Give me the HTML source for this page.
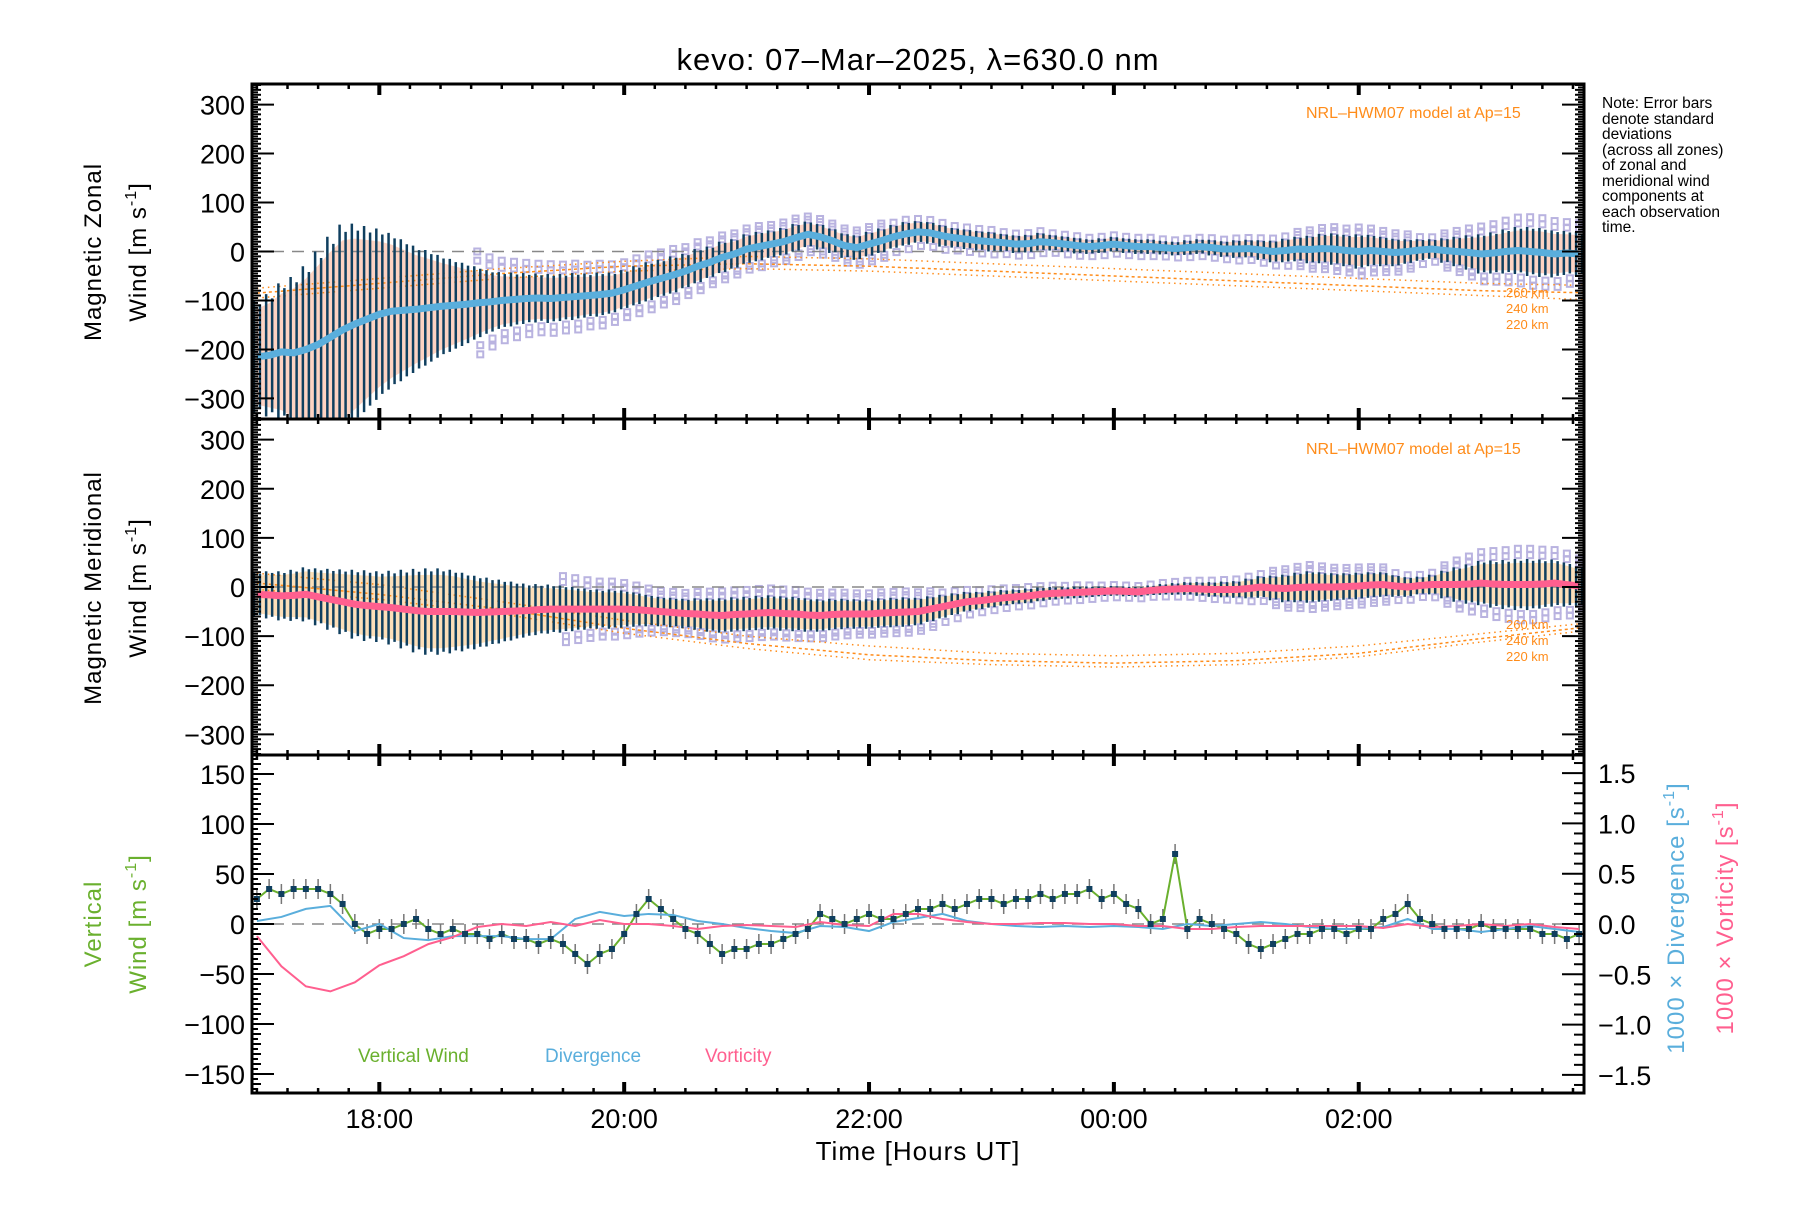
<!DOCTYPE html>
<html><head><meta charset="utf-8"><title>kevo winds</title>
<style>
html,body{margin:0;padding:0;background:#fff;}
svg text{font-family:"Liberation Sans",sans-serif;}
</style></head>
<body>
<svg id="chart" xmlns="http://www.w3.org/2000/svg" width="1800" height="1200" viewBox="0 0 1800 1200">
<rect x="0" y="0" width="1800" height="1200" fill="#fff"/>
<text x="918" y="70" font-size="31" text-anchor="middle" letter-spacing="1">kevo: 07–Mar–2025, λ=630.0 nm</text>
<g id="p1"></g>
<g id="p2"></g>
<g id="p3"></g>
<g id="axes"></g>
<text transform="translate(101,252) rotate(-90)" font-size="24" text-anchor="middle" letter-spacing="1">Magnetic Zonal</text>
<text transform="translate(146,252) rotate(-90)" font-size="24" text-anchor="middle" letter-spacing="1">Wind [m s<tspan dy="-10" font-size="16">-1</tspan><tspan dy="10">]</tspan></text>
<text transform="translate(101,588) rotate(-90)" font-size="24" text-anchor="middle" letter-spacing="1">Magnetic Meridional</text>
<text transform="translate(146,588) rotate(-90)" font-size="24" text-anchor="middle" letter-spacing="1">Wind [m s<tspan dy="-10" font-size="16">-1</tspan><tspan dy="10">]</tspan></text>
<text transform="translate(101,924) rotate(-90)" font-size="24" text-anchor="middle" fill="#6ab02e" letter-spacing="1">Vertical</text>
<text transform="translate(146,924) rotate(-90)" font-size="24" text-anchor="middle" fill="#6ab02e" letter-spacing="1">Wind [m s<tspan dy="-10" font-size="16">-1</tspan><tspan dy="10">]</tspan></text>
<text transform="translate(1684,918) rotate(-90)" font-size="24" text-anchor="middle" fill="#5aaedc" letter-spacing="1">1000 × Divergence [s<tspan dy="-10" font-size="16">-1</tspan><tspan dy="10">]</tspan></text>
<text transform="translate(1733,918) rotate(-90)" font-size="24" text-anchor="middle" fill="#ff5f8f" letter-spacing="1">1000 × Vorticity [s<tspan dy="-10" font-size="16">-1</tspan><tspan dy="10">]</tspan></text>
<text x="918" y="1160" font-size="26" text-anchor="middle" letter-spacing="1">Time [Hours UT]</text>
<g font-size="15.5">
<text x="1602" y="108">Note: Error bars</text>
<text x="1602" y="124">denote standard</text>
<text x="1602" y="139">deviations</text>
<text x="1602" y="155">(across all zones)</text>
<text x="1602" y="170">of zonal and</text>
<text x="1602" y="186">meridional wind</text>
<text x="1602" y="201">components at</text>
<text x="1602" y="217">each observation</text>
<text x="1602" y="232">time.</text>
</g>
<text x="1306" y="118" font-size="16" fill="#ff8c1a">NRL–HWM07 model at Ap=15</text>
<text x="1306" y="454" font-size="16" fill="#ff8c1a">NRL–HWM07 model at Ap=15</text>
<text x="358" y="1062" font-size="19" fill="#6ab02e">Vertical Wind</text>
<text x="545" y="1062" font-size="19" fill="#5aaedc">Divergence</text>
<text x="705" y="1062" font-size="19" fill="#ff5f8f">Vorticity</text>
</svg>
<script>
// ---- data ----
const t0 = 17.0, dt1 = 0.1, dt2 = 0.2;
const zonalMean = [-215,-212,-205,-207,-200,-190,-175,-160,-148,-138,
-128,-122,-120,-118,-115,-112,-110,-108,-105,-103,
-100,-98,-96,-95,-96,-94,-92,-90,-88,-85,
-78,-70,-62,-55,-48,-40,-30,-22,-12,-5,
5,10,15,20,28,35,30,22,12,8,
15,22,30,36,40,38,32,28,25,22,
20,18,15,16,20,18,15,12,10,12,
15,12,10,10,8,6,8,10,8,5,
5,6,3,0,2,5,4,6,5,2,
0,2,0,-2,0,3,5,2,0,-2,
-5,-3,0,2,0,-2,-5,-3,-5];
const zonalErr = [115,125,140,155,170,190,205,215,205,190,
175,160,145,130,118,105,95,85,75,65,
58,55,52,50,50,48,48,45,45,42,
40,40,40,38,38,35,35,32,32,30,
30,30,28,28,28,26,26,25,25,25,
25,25,24,24,22,22,22,20,20,20,
20,18,18,18,18,16,16,16,15,15,
15,15,15,15,14,14,15,15,16,16,
18,18,20,22,24,25,28,30,32,32,
35,32,30,28,25,22,20,25,30,35,
40,42,45,48,50,50,48,45,45];
const meridMean = [-15,-16,-18,-17,-15,-20,-25,-30,-35,-38,
-40,-42,-45,-48,-50,-50,-50,-51,-52,-51,
-50,-49,-48,-46,-45,-45,-45,-45,-45,-45,
-45,-46,-48,-50,-52,-54,-55,-57,-58,-56,
-55,-53,-52,-54,-55,-57,-58,-56,-55,-55,
-55,-53,-52,-51,-50,-45,-40,-35,-30,-28,
-25,-22,-20,-18,-15,-13,-12,-11,-10,-9,
-8,-9,-10,-7,-5,-4,-3,-4,-5,-5,
-5,-3,0,-2,-3,-1,0,0,0,1,
2,4,5,2,0,3,5,5,5,6,
8,6,5,5,5,6,8,5,2];
const meridErr = [45,48,50,52,55,58,62,66,70,72,
72,75,80,85,88,88,85,80,75,70,
65,60,55,52,50,48,45,42,40,40,
38,35,32,30,30,30,32,34,35,35,
35,35,35,35,35,34,33,32,31,30,
30,30,30,30,28,26,24,22,20,18,
17,16,15,15,14,13,12,12,11,10,
10,10,10,10,11,12,13,14,15,16,
17,20,22,25,28,30,32,30,28,27,
27,26,25,22,20,18,20,28,35,40,
45,48,50,52,52,50,48,45,40];
const vertWind = [25,35,30,35,35,35,30,20,0,-10,
-5,-5,0,5,-5,-10,-5,-10,-10,-15,
-10,-15,-15,-20,-15,-20,-30,-40,-30,-25,
-10,10,25,15,5,-5,-10,-20,-30,-25,
-25,-20,-20,-15,-10,-5,10,5,0,5,
10,5,5,10,15,15,20,15,20,25,
25,20,25,25,30,25,30,30,35,25,
30,20,15,0,5,70,-5,5,0,-5,
-10,-20,-25,-20,-15,-10,-10,-5,-5,-10,
-5,-5,5,10,20,5,0,-5,-5,-5,
0,-5,-5,-5,-5,-10,-10,-15,-10];
const divergence = [0.03,0.07,0.15,0.18,-0.07,0,-0.14,-0.16,-0.12,-0.12,-0.12,-0.15,-0.15,0.05,0.12,0.08,0.1,0.09,0.03,0,-0.04,-0.07,-0.09,-0.02,-0.03,-0.07,0.02,0.06,0.1,0.03,0,-0.02,-0.03,-0.02,-0.03,-0.02,-0.03,-0.05,0,-0.02,0,0.02,0,-0.03,-0.05,-0.05,-0.03,0.05,-0.05,-0.05,-0.08,-0.05,-0.02,-0.05,-0.08];
const vorticity = [-0.12,-0.42,-0.62,-0.67,-0.58,-0.41,-0.32,-0.2,-0.13,-0.03,0,-0.02,0.02,-0.02,0.04,0,0,-0.02,-0.05,-0.02,-0.01,-0.02,-0.03,0.02,-0.01,-0.02,0.1,0.1,0.05,0.02,0,0,0.01,0.01,0,0,-0.02,-0.02,-0.05,-0.05,-0.03,-0.02,-0.02,-0.02,-0.02,-0.02,-0.04,0,-0.03,-0.02,0,-0.02,0,-0.03,-0.05];
const modelHours = [17,18,19,20,21,22,23,24,25,26,27,28];
const zonalModel260 = [-75,-55,-35,-20,-10,-15,-25,-35,-45,-55,-65,-70];
const zonalModel240 = [-85,-65,-45,-30,-25,-30,-40,-50,-60,-70,-80,-85];
const zonalModel220 = [-95,-75,-55,-40,-35,-40,-50,-60,-70,-80,-90,-100];
const meridModel260 = [28,5,-30,-68,-100,-120,-135,-140,-135,-120,-95,-70];
const meridModel240 = [8,-15,-45,-84,-115,-138,-150,-155,-150,-135,-105,-78];
const meridModel220 = [-5,-25,-55,-94,-125,-148,-158,-163,-158,-142,-112,-85];
const xTickHours = [18,20,22,24,26];
const xTickLabels = ["18:00","20:00","22:00","00:00","02:00"];
const windTicks = [-300,-200,-100,0,100,200,300];
const vertTicks = [-150,-100,-50,0,50,100,150];
const rightTicks = [-1.5,-1.0,-0.5,0.0,0.5,1.0,1.5];
const rightTickLabels = ["−1.5","−1.0","−0.5","0.0","0.5","1.0","1.5"];

// ---- geometry ----
const NS = "http://www.w3.org/2000/svg";
const L = 252, R = 1584, H0 = 16.96, H1 = 27.84;
const P = [{top:84,bot:419,min:-342,max:342},{top:419,bot:755,min:-342,max:342},{top:755,bot:1093,min:-169,max:169}];
const rMin = -1.68, rMax = 1.68;
function xs(h){return L + (h - H0) / (H1 - H0) * (R - L);}
function ys(p, v){const q = P[p]; return q.bot - (v - q.min) / (q.max - q.min) * (q.bot - q.top);}
function yr(v){const q = P[2]; return q.bot - (v - rMin) / (rMax - rMin) * (q.bot - q.top);}
function mk(tag, attrs, parent){const e = document.createElementNS(NS, tag); for (const k in attrs) e.setAttribute(k, attrs[k]); parent.appendChild(e); return e;}
function clipFor(p){
  const defs = document.getElementById('defs') || mk('defs', {id:'defs'}, document.getElementById('chart'));
  const c = mk('clipPath', {id:'clip' + p}, defs);
  mk('rect', {x:L, y:P[p].top, width:R - L, height:P[p].bot - P[p].top}, c);
}
[0,1,2].forEach(clipFor);

function windPanel(p, gid, mean, err, barCol, lineCol, fillCol, m1, m2, m3, labelY, scatterFrom) {
  const g = document.getElementById(gid);
  g.setAttribute('clip-path', 'url(#clip' + p + ')');
  let up = [], dn = [];
  mean.forEach((v, i) => { const x = xs(t0 + i * dt1); up.push(x + ',' + ys(p, v + err[i] * 0.85)); dn.unshift(x + ',' + ys(p, v - err[i] * 0.85)); });
  const band = mk('polygon', {points: up.concat(dn).join(' '), fill: fillCol, opacity: 0.8}, g);
  
  
  const sc = mk('g', {fill: 'none', stroke: '#b9b3e0', 'stroke-width': 2}, g);
  
  
  mean.forEach((v, i) => {
    const h = t0 + i * dt1;
    if (h < scatterFrom) return;
    const x = xs(h);
    const fs = err[i] > 24 ? [1.15, -1.15, 1.4, -1.4] : [1.2, -1.3];
    fs.forEach((f, k) => {
      const r = mk('rect', {x: x - 3 + (k % 2) * 3, y: ys(p, v + err[i] * f) - 3, width: 6, height: 6}, sc);
      
      
    });
  });
  const z = mk('line', {x1: L, x2: R, y1: ys(p, 0), y2: ys(p, 0), stroke: '#888', 'stroke-width': 1.5, 'stroke-dasharray': '12,8'}, g);
  
  
  [m1, m2, m3].forEach((m, j) => {
    const pts = m.map((v, i) => xs(modelHours[i]) + ',' + ys(p, v)).join(' ');
    const pl = mk('polyline', {points: pts, fill: 'none', stroke: '#ff8c1a', 'stroke-width': 1.5, 'stroke-dasharray': j === 1 ? '3,3' : '1.5,4'}, g);
    
    
  });
  mean.forEach((v, i) => {
    const x = xs(t0 + i * dt1);
    [-3, 3].forEach(o => {
      const b = mk('line', {x1: x + o, x2: x + o, y1: ys(p, v - err[i] * (o < 0 ? 1 : 0.93)), y2: ys(p, v + err[i] * (o < 0 ? 1 : 0.93)), stroke: barCol, 'stroke-width': 2.5}, g);
      
      
    });
  });
  const pts = mean.map((v, i) => xs(t0 + i * dt1) + ',' + ys(p, v)).join(' ');
  const ml = mk('polyline', {points: pts, fill: 'none', stroke: lineCol, 'stroke-width': 7, 'stroke-linejoin': 'round'}, g);
  
  
  ['260 km','240 km','220 km'].forEach((s, j) => {
    const t = mk('text', {x: 1506, y: labelY + j * 16, 'font-size': 13, fill: '#ff8c1a'}, g.parentNode);
    t.textContent = s;
    
    
  });
}
windPanel(0, 'p1', zonalMean, zonalErr, '#0f3f5f', '#5aaedc', '#fcc8b4', zonalModel260, zonalModel240, zonalModel220, 297, 18.8);
windPanel(1, 'p2', meridMean, meridErr, '#0f3f5f', '#ff5f8f', '#fbd7a8', meridModel260, meridModel240, meridModel220, 629, 19.5);

(function(){
  const g = document.getElementById('p3');
  g.setAttribute('clip-path', 'url(#clip2)');
  const z = mk('line', {x1: L, x2: R, y1: ys(2, 0), y2: ys(2, 0), stroke: '#888', 'stroke-width': 1.5, 'stroke-dasharray': '12,8'}, g);
  
  
  vertWind.forEach((v, i) => {
    const x = xs(t0 + i * dt1);
    const b = mk('line', {x1: x, x2: x, y1: ys(2, v - 10), y2: ys(2, v + 10), stroke: '#777', 'stroke-width': 1.5}, g);
    
    
  });
  const vp = vertWind.map((v, i) => xs(t0 + i * dt1) + ',' + ys(2, v)).join(' ');
  const vl = mk('polyline', {points: vp, fill: 'none', stroke: '#6ab02e', 'stroke-width': 2}, g);
  
  
  const dp = divergence.map((v, i) => xs(t0 + i * dt2) + ',' + yr(v)).join(' ');
  const dl = mk('polyline', {points: dp, fill: 'none', stroke: '#5aaedc', 'stroke-width': 2}, g);
  
  
  const wp = vorticity.map((v, i) => xs(t0 + i * dt2) + ',' + yr(v)).join(' ');
  const wl = mk('polyline', {points: wp, fill: 'none', stroke: '#ff5f8f', 'stroke-width': 2}, g);
  
  
  vertWind.forEach((v, i) => {
    const x = xs(t0 + i * dt1);
    const d = mk('rect', {x: x - 3, y: ys(2, v) - 3, width: 6, height: 6, fill: '#0f3f5f'}, g);
    
    
  });
})();

(function(){
  const g = document.getElementById('axes');
  function ln(x1, y1, x2, y2, w, name){const e = mk('line', {x1, y1, x2, y2, stroke: '#000', 'stroke-width': w}, g);   return e;}
  function tx(x, y, s, anchor, name, size){const e = mk('text', {x, y, 'font-size': size || 27, 'text-anchor': anchor}, g); e.textContent = s;   return e;}
  P.forEach((q, p) => {
    const fr = mk('rect', {x: L, y: q.top, width: R - L, height: q.bot - q.top, fill: 'none', stroke: '#000', 'stroke-width': 3}, g);
    
    
    for (let h = 17; h <= 27.8; h += 0.25) {
      const x = xs(h); if (x < L || x > R) continue;
      const major = Math.abs(h / 2 - Math.round(h / 2)) < 1e-6;
      const len = major ? 11 : 5;
      ln(x, q.bot, x, q.bot - len, major ? 4 : 2.5, 'x-tick');
      ln(x, q.top, x, q.top + len, major ? 4 : 2.5, 'x-tick');
    }
    const step = 5, majStep = p < 2 ? 100 : 50;
    for (let v = Math.ceil(q.min / step) * step; v <= q.max; v += step) {
      const y = ys(p, v);
      const major = v % majStep === 0;
      const len = major ? 22 : (v % 10 === 0 ? 9 : 6);
      ln(L, y, L + len, y, 2, 'y-tick');
      if (p < 2) ln(R, y, R - len, y, 2, 'y-tick-right');
    }
    const ticks = p < 2 ? windTicks : vertTicks;
    ticks.forEach(v => tx(245, ys(p, v) + 10, (v < 0 ? '−' : '') + Math.abs(v), 'end', 'y-tick-label'));
  });
  for (let v = -1.6; v <= 1.61; v += 0.1) {
    const y = yr(v);
    const major = Math.abs(v * 2 - Math.round(v * 2)) < 1e-6;
    ln(R, y, R - (major ? 22 : 10), y, 2, 'right-y-tick');
  }
  rightTicks.forEach((v, i) => tx(1598, yr(v) + 10, rightTickLabels[i], 'start', 'right-y-tick-label'));
  xTickHours.forEach((h, i) => tx(xs(h), 1128, xTickLabels[i], 'middle', 'x-tick-label'));
})();
</script>
</body></html>
